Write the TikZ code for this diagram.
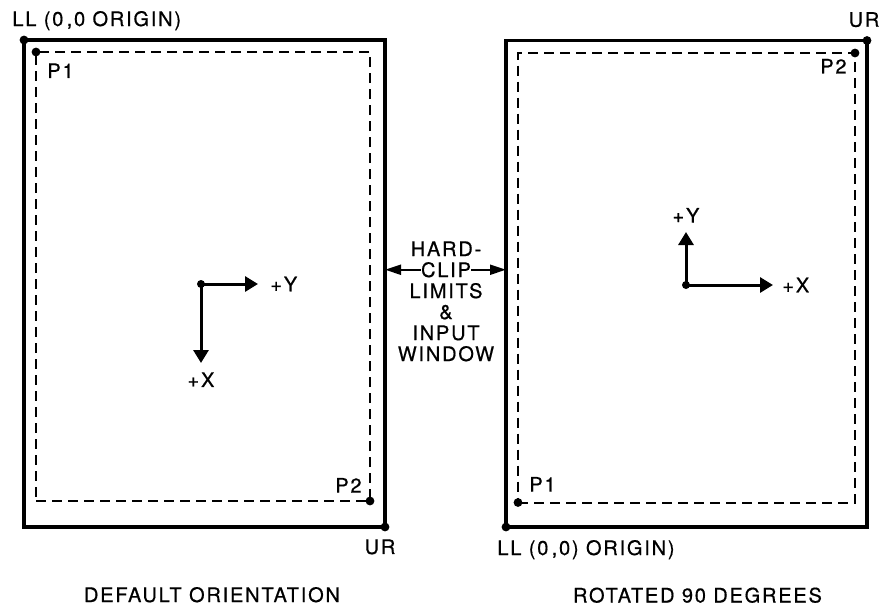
\documentclass[tikz,border=0pt]{standalone}
\usepackage{fontspec}
\setmainfont{TeX Gyre Heros}[LetterSpace=9, FakeBold=0.6]
\usetikzlibrary{arrows.meta}
\usetikzlibrary{positioning}

\begin{document}
\begin{tikzpicture}[x=0.5pt, y=-0.5pt,
    lbl/.style={inner sep=0pt, font=\fontsize{10pt}{10.5pt}\selectfont},
    limitbox/.style={draw, rectangle, line width=1.6pt, inner sep=0pt, outer sep=0pt},
    winbox/.style={draw, rectangle, line width=1pt, dash pattern=on 5pt off 3pt, inner sep=0pt, outer sep=0pt},
    cornerdot/.style={circle, fill, inner sep=0pt, minimum size=4.4pt},
    axis/.style={line width=1.5pt, -{Triangle[length=6.5pt,width=7.5pt]}},
    hclip/.style={line width=1pt, -{Triangle[length=8pt,width=5pt]}}]
    \useasboundingbox (0,0) rectangle (880,607);

    % default orientation
    \node[limitbox, minimum width=180.5pt, minimum height=243.5pt] (dflt) at (204.5,283.5) {};
    \node[winbox, minimum width=167pt, minimum height=224.5pt] (dwin) at (203,276.5) {};
    \node[cornerdot] (ll1) at (dflt.north west) {};
    \node[cornerdot] (ur1) at (dflt.south east) {};
    \node[cornerdot] (p1l) at (dwin.north west) {};
    \node[cornerdot] (p2l) at (dwin.south east) {};

    \node[lbl, anchor=base west] (lltxt1) at (12,26) {LL (0\,,0 ORIGIN)};
    \node[lbl, below=6pt of ur1.center, xshift=-2.5pt] (urtxt1) {UR};
    \node[lbl, below right=5.5pt and 5.5pt of p1l.center] (p1ltxt) {P1};
    \node[lbl, above left=4pt and 4pt of p2l.center] (p2ltxt) {P2};

    \node[cornerdot, minimum size=4pt] (o1) at (201,284) {};
    \coordinate (y1) at (258,284);
    \coordinate (x1) at (201,363);
    \draw[axis] (o1.center) -- (y1);
    \draw[axis] (o1.center) -- (x1);
    \node[lbl, right=6pt of y1] (y1txt) {+Y};
    \node[lbl, below=4.5pt of x1] (x1txt) {+X};

    % rotated 90 degrees
    \node[limitbox, minimum width=180.5pt, minimum height=243.25pt] (rot) at (686.5,283.75) {};
    \node[winbox, minimum width=168.5pt, minimum height=224.75pt] (rwin) at (686.5,277.75) {};
    \node[cornerdot] (ll2) at (rot.south west) {};
    \node[cornerdot] (ur2) at (rot.north east) {};
    \node[cornerdot] (p1r) at (rwin.south west) {};
    \node[cornerdot] (p2r) at (rwin.north east) {};

    \node[lbl, anchor=base west] (lltxt2) at (497,555) {LL (0\,,0) ORIGIN)};
    \node[lbl, above=6.5pt of ur2.center, xshift=-1.5pt] (urtxt2) {UR};
    \node[lbl, below left=2.75pt and 4pt of p2r.center] (p2rtxt) {P2};
    \node[lbl, above right=5.25pt and 5.5pt of p1r.center] (p1rtxt) {P1};

    \node[cornerdot, minimum size=4pt] (o2) at (686,285) {};
    \coordinate (y2) at (686,232);
    \coordinate (x2) at (773,285);
    \draw[axis] (o2.center) -- (y2);
    \draw[axis] (o2.center) -- (x2);
    \node[lbl, above=4.5pt of y2] (y2txt) {+Y};
    \node[lbl, right=4.5pt of x2] (x2txt) {+X};

    % hard-clip limits
    \node[lbl, anchor=base] (clip) at (446,277) {CLIP};
    \node[lbl, anchor=base] (hard) at ([yshift=10.5pt]clip.base) {HARD-};
    \node[lbl, anchor=base, align=center] (limits) at ([yshift=-42pt]clip.base) {LIMITS\\\&\\INPUT\\WINDOW};
    \draw[hclip] (clip.west) -- (clip.west -| dflt.east);
    \draw[hclip] (clip.east) -- (clip.east -| rot.west);

    \node[lbl, anchor=base] (dtitle) at (212,602) {DEFAULT ORIENTATION};
    \node[lbl, anchor=base] (rtitle) at (697.5,602.5) {ROTATED 90 DEGREES};
\end{tikzpicture}
\end{document}
